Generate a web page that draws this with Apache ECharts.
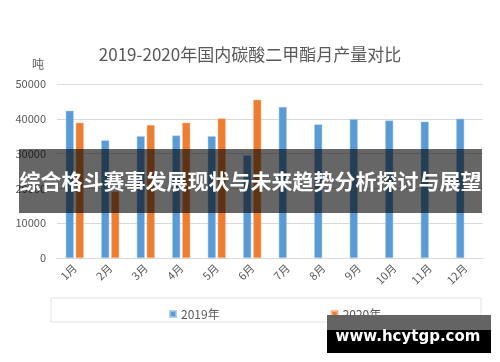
<!DOCTYPE html>
<html>
<head>
<meta charset="utf-8">
<script src="https://cdn.jsdelivr.net/npm/echarts@6/dist/echarts.min.js"></script>
<style>
html,body{margin:0;padding:0;background:#fff;}
#c{width:500px;height:362px;}
</style>
</head>
<body>
<div id="c"></div>
<script>
var months = ['1月','2月','3月','4月','5月','6月','7月','8月','9月','10月','11月','12月'];
var output2019 = [42300, 33800, 35000, 35200, 35000, 29500, 43400, 38400, 39900, 39500, 39200, 40000];
var output2020 = [38900, 19100, 38200, 38900, 40100, 45500];
var yTicks = [0, 10000, 20000, 30000, 40000, 50000];
var titleText = '2019-2020年国内碳酸二甲酯月产量对比';
var unitText = '吨';
var bannerText = '综合格斗赛事发展现状与未来趋势分析探讨与展望';
var watermarkText = 'www.hcytgp.com';

var cjk = '"Noto Sans CJK SC", "Noto Sans", sans-serif';
var chart = echarts.init(document.getElementById('c'), null, {renderer: 'canvas'});
chart.setOption({
  animation: false,
  backgroundColor: '#ffffff',
  title: {
    text: titleText,
    left: 'center',
    top: 41,
    textStyle: {fontFamily: cjk, fontSize: 17, fontWeight: 'normal', color: '#595959'}
  },
  legend: {
    data: ['2019年', '2020年'],
    left: 164,
    top: 303,
    itemWidth: 6,
    itemHeight: 6,
    itemGap: 111,
    icon: 'rect',
    textStyle: {fontFamily: cjk, fontSize: 12, color: '#595959'}
  },
  grid: {left: 57, right: 17, top: 84, bottom: 104},
  xAxis: {
    type: 'category',
    data: months,
    axisLine: {lineStyle: {color: '#d9d9d9'}},
    axisTick: {show: false},
    axisLabel: {rotate: 45, fontFamily: cjk, fontSize: 11, color: '#595959', margin: 8, interval: 0}
  },
  yAxis: {
    type: 'value',
    min: yTicks[0],
    max: yTicks[yTicks.length - 1],
    interval: yTicks[1] - yTicks[0],
    name: unitText,
    nameLocation: 'end',
    nameGap: 12,
    nameTextStyle: {fontFamily: cjk, fontSize: 12, color: '#595959', align: 'right', padding: [0, 13, 2, 0]},
    axisLine: {show: false},
    axisTick: {show: false},
    axisLabel: {fontFamily: cjk, fontSize: 11, color: '#595959', margin: 11,
                formatter: function (v) { return String(v); }},
    splitLine: {lineStyle: {color: '#d9d9d9'}}
  },
  series: [
    {name: '2019年', type: 'bar', data: output2019, barWidth: 8, barGap: '25%',
     itemStyle: {color: '#5b9bd5', borderColor: 'rgba(160,200,240,0.8)', borderWidth: 0.6}},
    {name: '2020年', type: 'bar', data: output2020, barWidth: 8,
     itemStyle: {color: '#ed7d31', borderColor: 'rgba(250,180,140,0.8)', borderWidth: 0.6}}
  ],
  graphic: [
    {type: 'rect', shape: {x: 51, y: 298, width: 430, height: 24},
     style: {fill: 'none', stroke: '#e3e3e3', lineWidth: 1}, z: 1},
    {type: 'rect', shape: {x: 19, y: 149, width: 463, height: 64},
     style: {fill: 'rgba(0,0,0,0.6)'}, z: 100},
    {type: 'text', x: 250.5, y: 181, z: 101,
     style: {text: bannerText, fill: '#ffffff', font: 'bold 21px "Noto Sans CJK SC", sans-serif',
             align: 'center', verticalAlign: 'middle'}},
    {type: 'rect', shape: {x: 327, y: 315, width: 164, height: 38},
     style: {fill: '#000000'}, z: 100},
    {type: 'rect', shape: {x: 327, y: 315, width: 164, height: 15},
     style: {fill: '#646464'}, z: 100},
    {type: 'text', x: 408, y: 337, z: 101,
     style: {text: watermarkText, fill: '#ffffff', font: 'bold 15px "DejaVu Sans", sans-serif',
             align: 'center', verticalAlign: 'middle'}}
  ]
});
</script>
</body>
</html>
